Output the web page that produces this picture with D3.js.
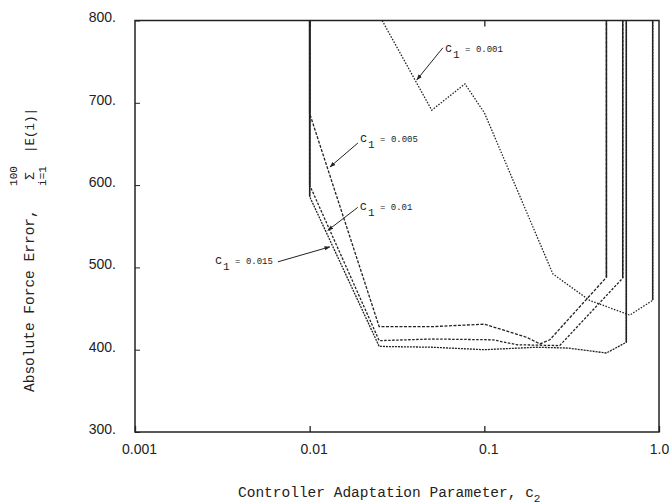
<!DOCTYPE html>
<html>
<head>
<meta charset="utf-8">
<script src="https://cdn.jsdelivr.net/npm/d3@7"></script>
<style>
body { margin: 0; background: #fff; }
</style>
</head>
<body>
<script>
// c2 values (log axis) and summed absolute force error, one pair per c1 curve
var c2_c1_001 = [0.026, 0.05, 0.0775, 0.1, 0.247, 0.40, 0.68, 0.92, 0.92];
var err_c1_001 = [800, 691, 723, 688, 492, 460, 442, 460, 800];
var c2_c1_005 = [0.01, 0.01, 0.025, 0.05, 0.1, 0.128, 0.175, 0.208, 0.237, 0.50, 0.50];
var err_c1_005 = [800, 687, 428, 428, 431, 424, 415, 407, 412, 488, 800];
var c2_c1_01 = [0.01, 0.01, 0.025, 0.05, 0.112, 0.154, 0.27, 0.62, 0.62];
var err_c1_01 = [800, 600, 411, 413, 412, 406, 405, 487, 800];
var c2_c1_015 = [0.01, 0.01, 0.025, 0.05, 0.1, 0.2, 0.3, 0.5, 0.65, 0.65];
var err_c1_015 = [800, 586, 404, 403, 400, 403, 402, 396, 409, 800];

var c1Labels = ['0.001', '0.005', '0.01', '0.015'];
// where each label's leader arrow touches its curve
var tipC2 = [0.0411, 0.01306, 0.0127, 0.01306];
var tipErr = [728, 622, 545, 525];

var xTicks = [0.001, 0.01, 0.1, 1];
var xTickLabels = ['0.001', '0.01', '0.1', '1.0'];
var yTicks = [300, 400, 500, 600, 700, 800];

var w = 669, h = 504;
var ink = '#222';

var svg = d3.select('body').append('svg')
    .attr('width', w)
    .attr('height', h);

var x = d3.scaleLog().domain([0.001, 1]).range([135, 659]);
var y = d3.scaleLinear().domain([300, 800]).range([432, 20.5]);

// frame
svg.append('rect')
    .attr('x', x(0.001)).attr('y', y(800))
    .attr('width', x(1) - x(0.001)).attr('height', y(300) - y(800))
    .attr('fill', 'none').attr('stroke', ink).attr('stroke-width', 1.5);

// axes: inward ticks
var sans = '"Liberation Sans", Arial, sans-serif';

var xAxis = svg.append('g')
    .attr('transform', 'translate(0,' + y(300) + ')')
    .call(d3.axisBottom(x).tickValues(xTicks).tickSize(-6).tickPadding(12)
        .tickFormat(function(d, i){ return xTickLabels[i]; }));
xAxis.select('.domain').remove();
xAxis.selectAll('line').attr('stroke', ink).attr('stroke-width', 1.3);
xAxis.selectAll('text')
    .attr('font-family', sans).attr('font-size', '14px')
    .attr('fill', ink)
    .attr('dx', function(d, i){ return i === xTicks.length - 1 ? 0 : 4; });

var topAxis = svg.append('g')
    .attr('transform', 'translate(0,' + y(800) + ')')
    .call(d3.axisTop(x).tickValues([0.01, 0.1]).tickSize(-6).tickFormat(''));
topAxis.select('.domain').remove();
topAxis.selectAll('line').attr('stroke', ink).attr('stroke-width', 1.3);

var yAxis = svg.append('g')
    .attr('transform', 'translate(' + x(0.001) + ',0)')
    .call(d3.axisLeft(y).tickValues(yTicks).tickSize(-5).tickPadding(19)
        .tickFormat(function(d){ return d + '.'; }));
yAxis.select('.domain').remove();
yAxis.selectAll('line').attr('stroke', ink).attr('stroke-width', 1);
yAxis.selectAll('text')
    .attr('font-family', sans).attr('font-size', '14px')
    .attr('fill', ink).attr('dy', '0.1em');

// curves
var series = [
    {c2: c2_c1_001, err: err_c1_001, dash: '1.5,1.5'},
    {c2: c2_c1_005, err: err_c1_005, dash: '3,1.5'},
    {c2: c2_c1_01, err: err_c1_01, dash: '2.5,1.5'},
    {c2: c2_c1_015, err: err_c1_015, dash: '2,1'}
];

var line = d3.line()
    .x(function(d){ return x(d[0]); })
    .y(function(d){ return y(d[1]); });

series.forEach(function(s){
    var pts = d3.zip(s.c2, s.err);
    svg.append('path')
        .datum(pts)
        .attr('d', line)
        .attr('fill', 'none')
        .attr('stroke', ink)
        .attr('stroke-width', 1.3)
        .attr('stroke-dasharray', s.dash);
    // vertical jumps (error blows up) are drawn solid
    for (var i = 0; i < pts.length - 1; i++) {
        if (pts[i][0] === pts[i + 1][0]) {
            svg.append('line')
                .attr('x1', x(pts[i][0])).attr('x2', x(pts[i + 1][0]))
                .attr('y1', y(pts[i][1])).attr('y2', y(pts[i + 1][1]))
                .attr('stroke', ink).attr('stroke-width', 1.5);
        }
    }
});

// curve labels with leader arrows
svg.append('defs').append('marker')
    .attr('id', 'arrow')
    .attr('viewBox', '0 0 10 10')
    .attr('refX', 9).attr('refY', 5)
    .attr('markerWidth', 6).attr('markerHeight', 6)
    .attr('orient', 'auto')
    .append('path')
    .attr('d', 'M0,1.5L10,5L0,8.5z')
    .attr('fill', ink);

var mono = '"Liberation Mono", "DejaVu Sans Mono", monospace';
// leader start and label anchor, relative to arrow tip
var noteLayout = [
    {sx: 26, sy: -32, tx: 28, ty: -28, anchor: 'start'},
    {sx: 28, sy: -24, tx: 30, ty: -25, anchor: 'start'},
    {sx: 30, sy: -23, tx: 32, ty: -20, anchor: 'start'},
    {sx: -52, sy: 15, tx: -57, ty: 17, anchor: 'end'}
];

c1Labels.forEach(function(lab, i){
    var tx = x(tipC2[i]), ty = y(tipErr[i]);
    var L = noteLayout[i];
    svg.append('line')
        .attr('x1', tx + L.sx).attr('y1', ty + L.sy)
        .attr('x2', tx).attr('y2', ty)
        .attr('stroke', ink).attr('stroke-width', 1)
        .attr('marker-end', 'url(#arrow)');
    var t = svg.append('text')
        .attr('x', tx + L.tx).attr('y', ty + L.ty)
        .attr('text-anchor', L.anchor)
        .attr('font-family', mono)
        .attr('fill', ink);
    t.append('tspan').attr('font-size', '12px').text('c');
    t.append('tspan').attr('font-size', '11px').attr('dy', 6).attr('dx', 1).text('1');
    t.append('tspan').attr('font-size', '9px').attr('dy', -6).text(' = ' + lab);
});

// x axis title
var xt = svg.append('text')
    .attr('x', 238).attr('y', 497)
    .attr('font-family', mono).attr('font-size', '14.5px')
    .attr('fill', ink);
xt.append('tspan').text('Controller Adaptation Parameter, c');
xt.append('tspan').attr('font-size', '11px').attr('dy', 5).text('2');

// y axis title (rotated), with summation sign
var yt = svg.append('g').attr('transform', 'rotate(-90)');
yt.append('text')
    .attr('x', -392).attr('y', 34)
    .attr('font-family', mono).attr('font-size', '14.5px')
    .attr('fill', ink)
    .text('Absolute Force Error,');
yt.append('text')
    .attr('x', -176).attr('y', 17)
    .attr('text-anchor', 'middle')
    .attr('font-family', mono).attr('font-size', '11px')
    .attr('fill', ink).text('100');
yt.append('text')
    .attr('x', -176).attr('y', 34)
    .attr('text-anchor', 'middle')
    .attr('font-family', mono).attr('font-size', '13px')
    .attr('fill', ink).text('\u03A3');
yt.append('text')
    .attr('x', -176).attr('y', 46)
    .attr('text-anchor', 'middle')
    .attr('font-family', mono).attr('font-size', '11px')
    .attr('fill', ink).text('i=1');
yt.append('text')
    .attr('x', -153).attr('y', 34)
    .attr('font-family', mono).attr('font-size', '12.5px')
    .attr('fill', ink).text('|E(i)|');
</script>
</body>
</html>
